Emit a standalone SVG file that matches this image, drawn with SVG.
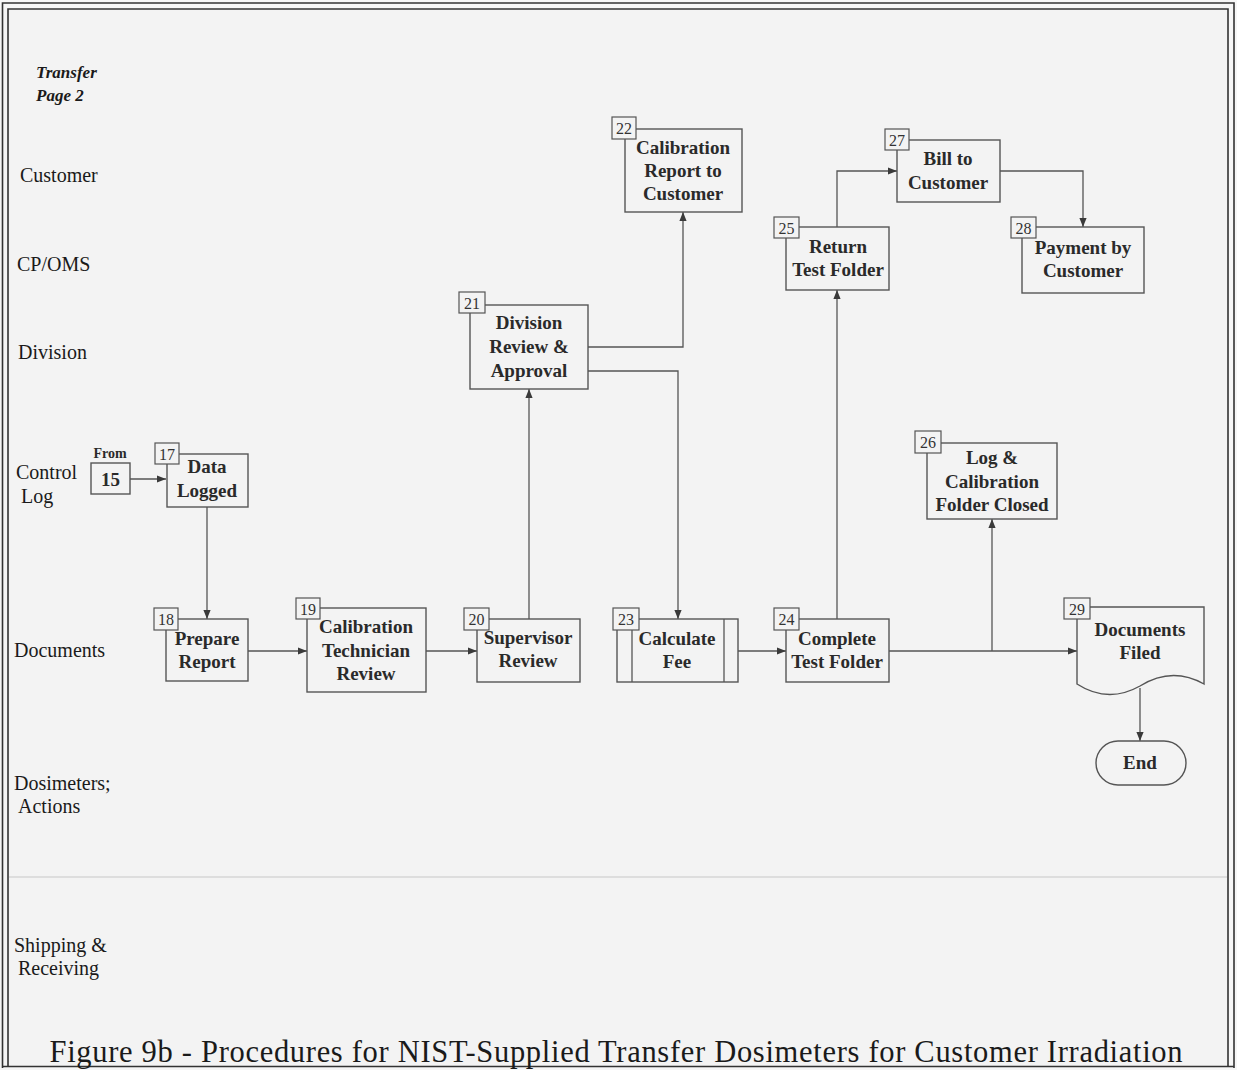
<svg xmlns="http://www.w3.org/2000/svg" width="1237" height="1070" viewBox="0 0 1237 1070">
<defs>
<marker id="ah" viewBox="0 0 10 10" refX="10" refY="5" markerWidth="9" markerHeight="9" markerUnits="userSpaceOnUse" orient="auto">
<path d="M0,1 L10,5 L0,9 Z" fill="#3a3a3a"/>
</marker>
<style>
.bg{fill:#f3f3f3}
.frame{fill:none;stroke:#333;stroke-width:1.6}
.box{fill:#f3f3f3;stroke:#555;stroke-width:1.4}
.num{fill:#f3f3f3;stroke:#555;stroke-width:1.2}
.numt{font-family:"Liberation Serif","Times New Roman",serif;font-size:16px;fill:#333;text-anchor:middle}
.t{font-family:"Liberation Serif","Times New Roman",serif;font-size:19px;font-weight:bold;fill:#2a2a2a;text-anchor:middle}
.lane{font-family:"Liberation Serif","Times New Roman",serif;font-size:20px;fill:#1a1a1a}
.conn{fill:none;stroke:#555;stroke-width:1.3}
.arr{fill:none;stroke:#555;stroke-width:1.3;marker-end:url(#ah)}
</style>
</defs>
<rect x="0" y="0" width="1237" height="1070" fill="#f6f6f6"/>
<rect class="bg" x="8" y="9" width="1220" height="1057"/>
<g id="frame">
<path class="frame" d="M2.5,1068 V3 H1234 V1068"/>
<path class="frame" d="M8,1066 V9 H1228 V1066"/>
<line x1="2.5" y1="1066.5" x2="1234" y2="1066.5" stroke="#333" stroke-width="1.6"/>
<line x1="9" y1="877" x2="1227" y2="877" stroke="#c8c8c8" stroke-width="1.2"/>
</g>
<g id="lanes">
<text x="36" y="78" font-family="'Liberation Serif','Times New Roman',serif" font-size="17" font-weight="bold" font-style="italic" fill="#1a1a1a">Transfer</text>
<text x="36" y="101" font-family="'Liberation Serif','Times New Roman',serif" font-size="17" font-weight="bold" font-style="italic" fill="#1a1a1a">Page 2</text>
<text class="lane" x="20" y="182">Customer</text>
<text class="lane" x="17" y="271">CP/OMS</text>
<text class="lane" x="18" y="359">Division</text>
<text class="lane" x="16" y="479">Control</text>
<text class="lane" x="21" y="503">Log</text>
<text class="lane" x="14" y="657">Documents</text>
<text class="lane" x="14" y="790">Dosimeters;</text>
<text class="lane" x="18" y="813">Actions</text>
<text class="lane" x="14" y="952">Shipping &amp;</text>
<text class="lane" x="18" y="975">Receiving</text>
</g>
<g id="connectors">
<line class="arr" x1="130" y1="479" x2="166" y2="479"/>
<line class="arr" x1="207" y1="507" x2="207" y2="619"/>
<line class="arr" x1="248" y1="651" x2="307" y2="651"/>
<line class="arr" x1="426" y1="651" x2="477" y2="651"/>
<line class="arr" x1="529" y1="619" x2="529" y2="389"/>
<polyline class="arr" points="588,347 683,347 683,212"/>
<polyline class="arr" points="588,371 678,371 678,619"/>
<line class="arr" x1="738" y1="651" x2="786" y2="651"/>
<line class="arr" x1="837" y1="619" x2="837" y2="290"/>
<polyline class="arr" points="837,227 837,171 897,171"/>
<polyline class="arr" points="1000,171 1083,171 1083,227"/>
<line class="arr" x1="889" y1="651" x2="1077" y2="651"/>
<line class="arr" x1="992" y1="651" x2="992" y2="519"/>
<line class="arr" x1="1140" y1="688" x2="1140" y2="741"/>
</g>
<g id="n15">
<text x="110" y="458" font-family="'Liberation Serif','Times New Roman',serif" font-size="14" font-weight="bold" fill="#2a2a2a" text-anchor="middle">From</text>
<rect class="box" x="91" y="463" width="39" height="31"/>
<text class="t" x="110.5" y="486">15</text>
</g>
<g id="n17">
<rect class="box" x="167" y="454" width="81" height="53"/>
<rect class="num" x="155" y="443" width="24" height="21"/>
<text class="numt" x="167" y="460">17</text>
<text class="t" x="207" y="473">Data</text>
<text class="t" x="207" y="497">Logged</text>
</g>
<g id="n18">
<rect class="box" x="166" y="619" width="82" height="62"/>
<rect class="num" x="154" y="608" width="24" height="22"/>
<text class="numt" x="166" y="625">18</text>
<text class="t" x="207" y="645">Prepare</text>
<text class="t" x="207" y="668">Report</text>
</g>
<g id="n19">
<rect class="box" x="307" y="608" width="119" height="84"/>
<rect class="num" x="296" y="598" width="24" height="21"/>
<text class="numt" x="308" y="615">19</text>
<text class="t" x="366" y="633">Calibration</text>
<text class="t" x="366" y="657">Technician</text>
<text class="t" x="366" y="680">Review</text>
</g>
<g id="n20">
<rect class="box" x="477" y="619" width="103" height="63"/>
<rect class="num" x="464" y="608" width="25" height="22"/>
<text class="numt" x="476.5" y="625">20</text>
<text class="t" x="528" y="644">Supervisor</text>
<text class="t" x="528" y="667">Review</text>
</g>
<g id="n21">
<rect class="box" x="470" y="305" width="118" height="84"/>
<rect class="num" x="459" y="292" width="26" height="21"/>
<text class="numt" x="472" y="309">21</text>
<text class="t" x="529" y="329">Division</text>
<text class="t" x="529" y="353">Review &amp;</text>
<text class="t" x="529" y="377">Approval</text>
</g>
<g id="n22">
<rect class="box" x="625" y="129" width="117" height="83"/>
<rect class="num" x="612" y="117" width="24" height="22"/>
<text class="numt" x="624" y="134">22</text>
<text class="t" x="683" y="154">Calibration</text>
<text class="t" x="683" y="177">Report to</text>
<text class="t" x="683" y="200">Customer</text>
</g>
<g id="n23">
<rect class="box" x="617" y="619" width="121" height="63"/>
<line x1="632" y1="619" x2="632" y2="682" stroke="#555" stroke-width="1.3"/>
<line x1="724" y1="619" x2="724" y2="682" stroke="#555" stroke-width="1.3"/>
<rect class="num" x="613" y="608" width="26" height="22"/>
<text class="numt" x="626" y="625">23</text>
<text class="t" x="677" y="645">Calculate</text>
<text class="t" x="677" y="668">Fee</text>
</g>
<g id="n24">
<rect class="box" x="786" y="619" width="103" height="63"/>
<rect class="num" x="774" y="608" width="25" height="22"/>
<text class="numt" x="786.5" y="625">24</text>
<text class="t" x="837" y="645">Complete</text>
<text class="t" x="837" y="668">Test Folder</text>
</g>
<g id="n25">
<rect class="box" x="786" y="227" width="103" height="63"/>
<rect class="num" x="774" y="217" width="25" height="21"/>
<text class="numt" x="786.5" y="234">25</text>
<text class="t" x="838" y="253">Return</text>
<text class="t" x="838" y="276">Test Folder</text>
</g>
<g id="n26">
<rect class="box" x="927" y="443" width="130" height="76"/>
<rect class="num" x="915" y="431" width="26" height="22"/>
<text class="numt" x="928" y="448">26</text>
<text class="t" x="992" y="464">Log &amp;</text>
<text class="t" x="992" y="488">Calibration</text>
<text class="t" x="992" y="511">Folder Closed</text>
</g>
<g id="n27">
<rect class="box" x="897" y="140" width="103" height="62"/>
<rect class="num" x="885" y="129" width="24" height="21"/>
<text class="numt" x="897" y="146">27</text>
<text class="t" x="948" y="165">Bill to</text>
<text class="t" x="948" y="189">Customer</text>
</g>
<g id="n28">
<rect class="box" x="1022" y="227" width="122" height="66"/>
<rect class="num" x="1011" y="217" width="25" height="21"/>
<text class="numt" x="1023.5" y="234">28</text>
<text class="t" x="1083" y="254">Payment by</text>
<text class="t" x="1083" y="277">Customer</text>
</g>
<g id="n29">
<path class="box" d="M1077,607 H1204 V684 Q1172,666 1140,686 Q1108,704 1077,684 Z"/>
<rect class="num" x="1064" y="598" width="26" height="21"/>
<text class="numt" x="1077" y="615">29</text>
<text class="t" x="1140" y="636">Documents</text>
<text class="t" x="1140" y="659">Filed</text>
</g>
<g id="end">
<rect class="box" x="1096" y="741" width="90" height="44" rx="22" ry="22"/>
<text class="t" x="1140" y="769">End</text>
</g>
<text x="616" y="1062" font-family="'Liberation Serif','Times New Roman',serif" font-size="30.5" fill="#1a1a1a" text-anchor="middle" textLength="1133" lengthAdjust="spacing">Figure 9b - Procedures for NIST-Supplied Transfer Dosimeters for Customer Irradiation</text>
</svg>
